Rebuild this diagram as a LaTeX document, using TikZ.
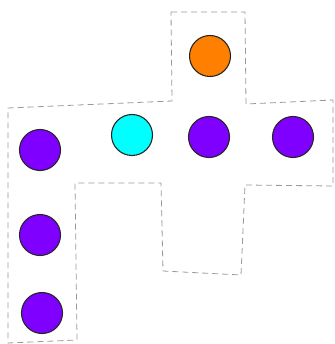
\documentclass[tikz,border=0pt]{standalone}
\definecolor{dotorange}{RGB}{255,128,0}
\definecolor{dotcyan}{RGB}{0,255,255}
\definecolor{dotviolet}{RGB}{127,0,255}
\begin{document}
\begin{tikzpicture}[x=1pt,y=-1pt,
  dot/.style={circle,draw=black!85,line width=1.1pt,minimum size=41pt,inner sep=0pt},
  outline/.style={draw=gray!80,dashed,dash pattern=on 6pt off 4pt,line width=0.8pt}]
\useasboundingbox (0,0) rectangle (334,344);
\coordinate (p1) at (171,12);
\coordinate (p2) at (245,12);
\coordinate (p3) at (246,104);
\coordinate (p4) at (333,100);
\coordinate (p5) at (333,186);
\coordinate (p6) at (245,185);
\coordinate (p7) at (241,275);
\coordinate (p8) at (163,271);
\coordinate (p9) at (161,183);
\coordinate (p10) at (75,183);
\coordinate (p11) at (77,340);
\coordinate (p12) at (8,343);
\coordinate (p13) at (8,108);
\coordinate (p14) at (172,101);
\draw[outline] (p1) -- (p2) -- (p3) -- (p4) -- (p5) -- (p6) -- (p7) -- (p8) -- (p9) -- (p10) -- (p11) -- (p12) -- (p13) -- (p14) -- cycle;
\node[dot,fill=dotorange] (o) at (210,56) {};
\node[dot,fill=dotcyan] (c) at (132,135) {};
\node[dot,fill=dotviolet] (v1) at (209,137) {};
\node[dot,fill=dotviolet] (v2) at (293,137) {};
\node[dot,fill=dotviolet] (v3) at (40,150) {};
\node[dot,fill=dotviolet] (v4) at (40,235) {};
\node[dot,fill=dotviolet] (v5) at (42,313) {};
\end{tikzpicture}
\end{document}
